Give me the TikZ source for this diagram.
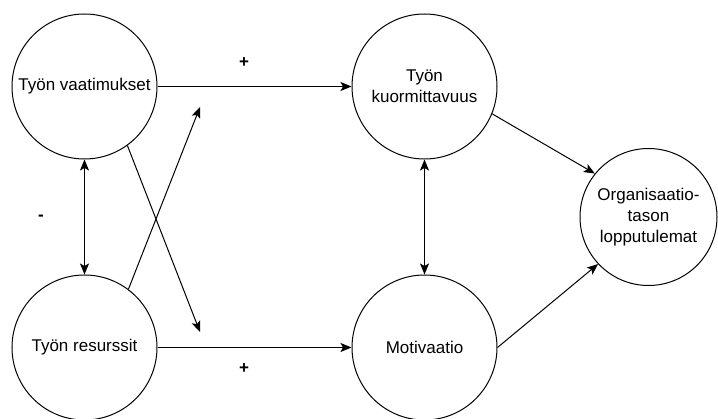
\documentclass[tikz,border=0pt]{standalone}
\usepackage{fontspec}
\setmainfont{Liberation Sans}
\usetikzlibrary{arrows.meta}
\begin{document}
\begin{tikzpicture}[x=1pt,y=1pt,
  circ/.style={circle,draw=black,line width=1pt,inner sep=0pt,align=center,
    font=\fontsize{17}{21}\selectfont},
  conn/.style={line width=1pt,-{Stealth[length=11pt,width=9pt,inset=2.5pt]}},
  biconn/.style={line width=1pt,{Stealth[length=11pt,width=9pt,inset=2.5pt]}-{Stealth[length=11pt,width=9pt,inset=2.5pt]}},
  sign/.style={font=\fontsize{17}{21}\selectfont\bfseries,inner sep=0pt}]
\useasboundingbox (0,0) rectangle (718,-419);
\node[circ,minimum size=145pt] (va) at (84.5,-86.5) {Työn vaatimukset};
\node[circ,minimum size=145pt] (re) at (84.5,-347.5) {Työn resurssit};
\node[circ,minimum size=145pt] (ku) at (424.5,-86.5) {Työn\\kuormittavuus};
\node[circ,minimum size=145pt] (mo) at (424.5,-347.5) {Motivaatio};
\node[circ,minimum size=137pt] (org) at (648.5,-217) {Organisaatio-\\tason\\lopputulemat};
\coordinate (d1) at (200,-332);
\coordinate (d2) at (200,-107);
\draw[conn] (va.east) -- (ku.west);
\draw[conn] (re.east) -- (mo.west);
\draw[biconn] (va.south) -- (re.north);
\draw[biconn] (ku.south) -- (mo.north);
\draw[conn] (va.-54) -- (d1);
\draw[conn] (re.53) -- (d2);
\draw[conn] (ku.-22) -- (org.141);
\draw[conn] (mo.east) -- (org.-137);
\node[sign] (p1) at (244,-63) {+};
\node[sign] (p2) at (244,-369) {+};
\node[sign] (m1) at (41,-218) {-};
\end{tikzpicture}
\end{document}
